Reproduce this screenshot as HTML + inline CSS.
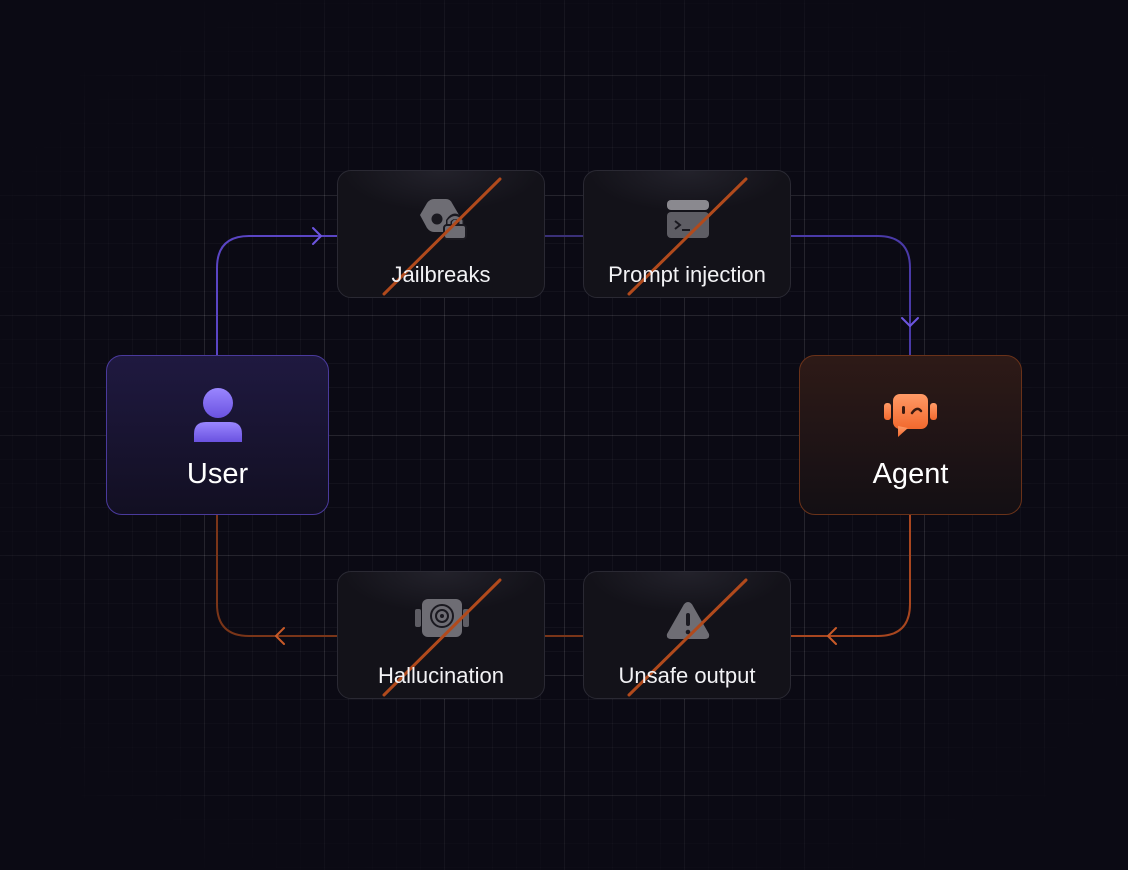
<!DOCTYPE html>
<html><head><meta charset="utf-8"><style>
html,body{margin:0;padding:0;background:#0b0a14;}
body{width:1128px;height:870px;position:relative;overflow:hidden;font-family:"Liberation Sans",sans-serif;}
.grid{position:absolute;inset:0;
background-image:
linear-gradient(to right,rgba(255,255,255,0.08) 1px,transparent 1px),
linear-gradient(to bottom,rgba(255,255,255,0.08) 1px,transparent 1px),
linear-gradient(to right,rgba(255,255,255,0.035) 1px,transparent 1px),
linear-gradient(to bottom,rgba(255,255,255,0.035) 1px,transparent 1px);
background-size:120px 120px,120px 120px,24px 24px,24px 24px;
background-position:84px 75px,84px 75px,12px 3px,12px 3px;
-webkit-mask-image:radial-gradient(ellipse 62% 60% at 50% 50%,#000 55%,transparent 100%);
mask-image:radial-gradient(ellipse 62% 60% at 50% 50%,#000 55%,transparent 100%);}
.card{position:absolute;width:206px;height:126px;border:1px solid #2a2933;border-radius:14px;
background:radial-gradient(ellipse 60% 40% at 50% 0%,#23222b,#131219 80%);box-sizing:content-box;}
.card .lbl{position:absolute;left:0;right:0;top:91px;text-align:center;color:#f2f2f5;font-size:22px;}
.big{position:absolute;width:221px;height:158px;border-radius:16px;}
.big .lbl{position:absolute;left:0;right:0;top:102px;text-align:center;color:#fff;font-size:29px;}
</style></head><body>
<div class="grid"></div>
<svg width="1128" height="870" style="position:absolute;left:0;top:0">
<g fill="none" stroke-width="2" stroke-linecap="round" stroke-linejoin="round">
<path d="M217 355 V268 Q217 236 249 236 H337" stroke="#5a45c4"/>
<path d="M545 236 H583" stroke="#3a3078"/>
<path d="M791 236 H878 Q910 236 910 268 V355" stroke="#4a3aa8"/>
<path d="M910 515 V604 Q910 636 878 636 H791" stroke="#a8461f"/>
<path d="M545 636 H583" stroke="#7a3518"/>
<path d="M337 636 H249 Q217 636 217 604 V515" stroke="#7a3518"/>
<path d="M313 228 L321 236 L313 244" stroke="#6d55e0"/>
<path d="M902 318 L910 326 L918 318" stroke="#6d55e0"/>
<path d="M836 628 L828 636 L836 644" stroke="#c85a28"/>
<path d="M284 628 L276 636 L284 644" stroke="#c85a28"/>
</g>
</svg>

<div class="big" style="left:106px;top:355px;border:1px solid #4a3a9c;background:linear-gradient(180deg,#1f1940,#120f22);">
<svg width="221" height="100" style="position:absolute;left:0;top:0">
<defs><linearGradient id="ug" x1="0" y1="0" x2="0" y2="1"><stop offset="0" stop-color="#9a86ff"/><stop offset="1" stop-color="#6a52e0"/></linearGradient></defs>
<circle cx="111" cy="47" r="15" fill="url(#ug)"/>
<path d="M87 86 V78 Q87 66 99 66 H123 Q135 66 135 78 V86 Z" fill="url(#ug)"/>
</svg>
<div class="lbl">User</div></div>

<div class="big" style="left:799px;top:355px;border:1px solid #6a3219;background:linear-gradient(180deg,#2e1a17,#130f14);">
<svg width="221" height="100" style="position:absolute;left:0;top:0">
<defs><linearGradient id="ag" x1="0" y1="0" x2="0" y2="1"><stop offset="0" stop-color="#ff9a66"/><stop offset="1" stop-color="#f2692e"/></linearGradient></defs>
<rect x="84" y="47" width="7" height="17" rx="3" fill="url(#ag)"/>
<rect x="130" y="47" width="7" height="17" rx="3" fill="url(#ag)"/>
<rect x="93" y="38" width="35" height="35" rx="7" fill="url(#ag)"/>
<path d="M98 70 L98 81 L108 72 Z" fill="url(#ag)"/>
<rect x="102" y="50" width="3" height="8" rx="1.5" fill="#3a1a10"/>
<path d="M112 57 Q117 50 121 55" stroke="#3a1a10" stroke-width="2.5" fill="none" stroke-linecap="round"/>
</svg>
<div class="lbl">Agent</div></div>

<div class="card" style="left:337px;top:170px;">
<svg width="206" height="126" style="position:absolute;left:0;top:0">
<path d="M89 32 Q92 28 96 28 H108 Q112 28 114 32 L121 44 L114 57 Q112 61 108 61 H96 Q92 61 89 57 L82 44 Z" fill="#6e6d74"/>
<circle cx="99" cy="48" r="5.5" fill="#1a1920"/>
<path d="M111 55 V50 Q117 41 123 50 V55" stroke="#1a1920" stroke-width="6" fill="none"/>
<path d="M111 55 V50 Q117 43 123 50 V55" stroke="#6e6d74" stroke-width="3" fill="none"/>
<rect x="106" y="54" width="22" height="14" rx="3" fill="#6e6d74" stroke="#1a1920" stroke-width="2"/>
<line x1="46" y1="123" x2="162" y2="8" stroke="#b14a1c" stroke-width="3" stroke-linecap="round"/>
</svg><div class="lbl">Jailbreaks</div></div>

<div class="card" style="left:583px;top:170px;">
<svg width="206" height="126" style="position:absolute;left:0;top:0">
<rect x="83" y="29" width="42" height="10" rx="4" fill="#8a898f"/>
<rect x="83" y="41" width="42" height="26" rx="4" fill="#5e5d64"/>
<path d="M91 50 L96 54 L91 58 M98 59 H106" stroke="#1a1920" stroke-width="2" fill="none"/>
<line x1="45" y1="123" x2="162" y2="8" stroke="#b14a1c" stroke-width="3" stroke-linecap="round"/>
</svg><div class="lbl">Prompt injection</div></div>

<div class="card" style="left:337px;top:571px;">
<svg width="206" height="126" style="position:absolute;left:0;top:0">
<rect x="77" y="37" width="6" height="18" rx="2" fill="#5e5d64"/>
<rect x="125" y="37" width="6" height="18" rx="2" fill="#5e5d64"/>
<rect x="84" y="27" width="40" height="38" rx="6" fill="#6e6d74"/>
<circle cx="104" cy="44" r="11" fill="none" stroke="#1a1920" stroke-width="2"/>
<circle cx="104" cy="44" r="6" fill="none" stroke="#1a1920" stroke-width="2"/>
<circle cx="104" cy="44" r="2" fill="#1a1920"/>
<line x1="46" y1="123" x2="162" y2="8" stroke="#b14a1c" stroke-width="3" stroke-linecap="round"/>
</svg><div class="lbl">Hallucination</div></div>

<div class="card" style="left:583px;top:571px;">
<svg width="206" height="126" style="position:absolute;left:0;top:0">
<path d="M104 30 Q107 30 109 34 L125 62 Q126 67 121 67 H87 Q82 67 83 62 L99 34 Q101 30 104 30 Z" fill="#6e6d74"/>
<rect x="102" y="41" width="4" height="13" rx="2" fill="#1a1920"/>
<circle cx="104" cy="60" r="2.3" fill="#1a1920"/>
<line x1="45" y1="123" x2="162" y2="8" stroke="#b14a1c" stroke-width="3" stroke-linecap="round"/>
</svg><div class="lbl">Unsafe output</div></div>
</body></html>
